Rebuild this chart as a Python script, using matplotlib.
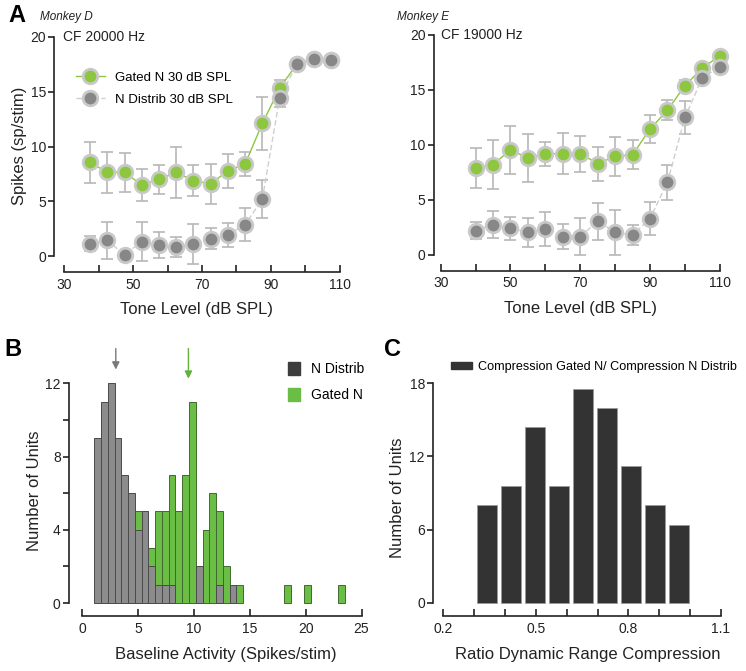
import numpy as np
import matplotlib
matplotlib.use('Agg')
import matplotlib.pyplot as plt
from matplotlib.lines import Line2D
from matplotlib.patches import Patch
from matplotlib.ticker import MultipleLocator

plt.rcParams['font.family'] = ['Liberation Sans', 'DejaVu Sans']

# ---- panel A data: Monkey D (CF 20000 Hz)
level_d = [37.5, 42.5, 47.5, 52.5, 57.5, 62.5, 67.5, 72.5, 77.5, 82.5, 87.5, 92.5, 97.5, 102.5, 107.5]
gated_d = [8.55, 7.65, 7.65, 6.5, 7.0, 7.65, 6.9, 6.6, 7.8, 8.4, 12.1, 15.3, 17.5, 18.0, 17.9]
gated_d_err = [1.85, 1.85, 1.75, 1.5, 1.35, 2.35, 1.4, 1.8, 1.55, 1.1, 2.4, 0.8, 0.3, 0.3, 0.3]
distrib_d = [1.15, 1.45, 0.15, 1.35, 1.05, 0.85, 1.15, 1.6, 1.95, 2.9, 5.2, 14.4, 17.5, 18.0, 17.9]
distrib_d_err = [0.7, 1.7, 0.3, 1.75, 1.2, 0.9, 1.8, 0.95, 1.1, 1.5, 1.75, 0.8, 0.3, 0.3, 0.3]

# ---- panel A data: Monkey E (CF 19000 Hz)
level_e = [40, 45, 50, 55, 60, 65, 70, 75, 80, 85, 90, 95, 100, 105, 110]
gated_e = [7.9, 8.2, 9.55, 8.8, 9.2, 9.2, 9.2, 8.3, 8.95, 9.1, 11.45, 13.15, 15.4, 17.0, 18.1]
gated_e_err = [1.8, 2.2, 2.2, 2.15, 1.1, 1.85, 1.65, 1.55, 1.75, 1.3, 1.25, 0.9, 0.5, 0.3, 0.3]
distrib_e = [2.2, 2.75, 2.4, 2.05, 2.35, 1.65, 1.65, 3.05, 2.05, 1.8, 3.3, 6.6, 12.5, 16.1, 17.1]
distrib_e_err = [0.75, 1.2, 1.05, 1.3, 1.55, 1.15, 1.7, 1.7, 2.05, 0.95, 1.5, 1.6, 1.5, 0.3, 0.3]

# ---- panel B data: baseline activity histogram
bin_start = 1.07
bin_w = 0.606
hist_distrib = [9, 11, 12, 9, 7, 6, 4, 5, 2, 1, 1, 1, 0, 0, 0, 2, 0, 0, 1, 0, 1, 0,
                0, 0, 0, 0, 0, 0, 0, 0, 0, 0, 0, 0, 0, 0, 0]
hist_gated = [0, 0, 0, 0, 0, 0, 5, 0, 3, 5, 5, 7, 5, 7, 11, 0, 4, 6, 5, 2, 0, 1,
              0, 0, 0, 0, 0, 0, 1, 0, 0, 1, 0, 0, 0, 0, 1]
mean_distrib = 3.0
mean_gated = 9.5

# ---- panel C data: ratio of dynamic range compression
ratio_centers = [0.341, 0.419, 0.497, 0.574, 0.652, 0.730, 0.808, 0.886, 0.964]
ratio_counts = [8.0, 9.6, 14.4, 9.6, 17.5, 16.0, 11.2, 8.0, 6.4]

GREEN_M = '#8dc63f'
GRAY_M = '#878787'
EDGE_M = '#c9c9c9'
ERR = '#b8b8b8'
GREEN_B = '#6abd45'
GRAY_B = '#8c8c8c'
INK = '#222222'

W, H = 746, 671
fig = plt.figure(figsize=(W / 100, H / 100), dpi=100)


def px_axes(left, top, right, bottom):
    return fig.add_axes([left / W, 1 - bottom / H, (right - left) / W, (bottom - top) / H])


def style_axes(ax):
    for s in ['top', 'right']:
        ax.spines[s].set_visible(False)
    for s in ['left', 'bottom']:
        ax.spines[s].set_linewidth(1.2)
        ax.spines[s].set_color(INK)
    ax.tick_params(axis='y', which='both', direction='out', length=4.5, width=1.2,
                   pad=1.5, labelsize=10, colors=INK)
    ax.tick_params(axis='x', which='both', direction='in', length=5, width=1.2,
                   pad=4, labelsize=10, colors=INK)
    ax.patch.set_visible(False)


def rate_panel(ax, x, g, ge, d, de):
    ax.errorbar(x, g, yerr=ge, fmt='none', ecolor=ERR, elinewidth=1.2, capsize=4.5,
                capthick=1.2, zorder=2, clip_on=False)
    ax.errorbar(x, d, yerr=de, fmt='none', ecolor=ERR, elinewidth=1.2, capsize=4.5,
                capthick=1.2, zorder=2, clip_on=False)
    ax.plot(x, g, color=GREEN_M, lw=1.0, zorder=3, clip_on=False)
    ax.plot(x, d, color='#cfcfcf', lw=1.0, ls=(0, (4, 2)), zorder=3, clip_on=False)
    ax.plot(x, g, 'o', ms=10.5, mfc=GREEN_M, mec=EDGE_M, mew=2, zorder=4, clip_on=False)
    ax.plot(x, d, 'o', ms=10.5, mfc=GRAY_M, mec=EDGE_M, mew=2, zorder=5, clip_on=False)
    ax.set_ylim(-1.45, 20)
    ax.spines['left'].set_bounds(0, 20)
    ax.spines['bottom'].set_bounds(30, 110)
    ax.set_yticks([0, 5, 10, 15, 20])
    ax.set_xticks([30, 50, 70, 90, 110])
    ax.xaxis.set_minor_locator(MultipleLocator(10))
    style_axes(ax)


# ---- Panel A, Monkey D
axA1 = px_axes(54.5, 36.7, 345, 272.3)
axA1.set_xlim(27.17, 111.5)
rate_panel(axA1, level_d, gated_d, gated_d_err, distrib_d, distrib_d_err)
axA1.set_ylabel('Spikes (sp/stim)', fontsize=12, color=INK)
axA1.yaxis.set_label_coords(-0.095, 0.535)
axA1.set_xlabel('Tone Level (dB SPL)', fontsize=12, color=INK)
axA1.xaxis.set_label_coords(0.49, -0.125)
axA1.text(29.6, 20, 'CF 20000 Hz', fontsize=10, va='center', ha='left', color=INK)
handles = [Line2D([], [], color=GREEN_M, lw=1, marker='o', ms=10.5, mfc=GREEN_M, mec=EDGE_M, mew=2),
           Line2D([], [], color='#cfcfcf', lw=1, ls=(0, (4, 2)), marker='o', ms=10.5,
                  mfc=GRAY_M, mec=EDGE_M, mew=2)]
axA1.legend(handles, ['Gated N 30 dB SPL', 'N Distrib 30 dB SPL'], loc='upper left',
            bbox_to_anchor=(0.055, 0.875), frameon=False, fontsize=9.5, handlelength=2.2,
            handletextpad=0.8, labelspacing=0.75, borderaxespad=0)

# ---- Panel A, Monkey E
axA2 = px_axes(434, 35, 724, 270.7)
axA2.set_xlim(28.08, 111.2)
rate_panel(axA2, level_e, gated_e, gated_e_err, distrib_e, distrib_e_err)
axA2.set_xlabel('Tone Level (dB SPL)', fontsize=12, color=INK)
axA2.xaxis.set_label_coords(0.505, -0.13)
axA2.text(30.2, 20, 'CF 19000 Hz', fontsize=10, va='center', ha='left', color=INK)

fig.text(8 / W, 1 - 4 / H, 'A', fontsize=17, fontweight='bold', va='top', ha='left')
fig.text(40 / W, 1 - 17 / H, 'Monkey D', fontsize=8.5, style='italic', va='center', color=INK)
fig.text(397 / W, 1 - 17 / H, 'Monkey E', fontsize=8.5, style='italic', va='center', color=INK)

# ---- Panel B
axB = px_axes(69, 383.3, 366, 616)
axB.set_xlim(-1.19, 25.4)
axB.set_ylim(-0.71, 12)
edges = [bin_start + i * bin_w for i in range(len(hist_gated))]
gx = [e for e, c in zip(edges, hist_gated) if c > 0]
gc = [c for c in hist_gated if c > 0]
dx = [e for e, c in zip(edges, hist_distrib) if c > 0]
dc = [c for c in hist_distrib if c > 0]
axB.bar(gx, gc, width=bin_w, align='edge', color=GREEN_B, edgecolor='#3f6b2c', lw=0.7, zorder=2)
axB.bar(dx, dc, width=bin_w, align='edge', color=GRAY_B, edgecolor='#4a4a4a', lw=0.7, zorder=3)
axB.spines['left'].set_bounds(0, 12)
axB.spines['bottom'].set_bounds(0, 25)
axB.set_yticks([0, 4, 8, 12])
axB.yaxis.set_minor_locator(MultipleLocator(2))
axB.set_xticks([0, 5, 10, 15, 20, 25])
style_axes(axB)
axB.set_ylabel('Number of Units', fontsize=12, color=INK)
axB.yaxis.set_label_coords(-0.09, 0.54)
axB.set_xlabel('Baseline Activity (Spikes/stim)', fontsize=12, color=INK)
axB.xaxis.set_label_coords(0.527, -0.135)
axB.annotate('', xy=(mean_distrib, 12.6), xytext=(mean_distrib, 14.05), annotation_clip=False,
             arrowprops=dict(arrowstyle='-|>', color='#7a7a7a', lw=1.0, mutation_scale=11))
axB.annotate('', xy=(mean_gated, 12.1), xytext=(mean_gated, 14.05), annotation_clip=False,
             arrowprops=dict(arrowstyle='-|>', color='#5fb23c', lw=1.0, mutation_scale=11))
axB.legend([Patch(color='#3d3d3d'), Patch(color=GREEN_B)], ['N Distrib', 'Gated N'],
           loc='upper left', bbox_to_anchor=(0.72, 1.115), frameon=False, fontsize=10,
           handlelength=0.8, handleheight=1.1, handletextpad=0.8, labelspacing=0.8,
           borderaxespad=0)
fig.text(4 / W, 1 - 338 / H, 'B', fontsize=17, fontweight='bold', va='top', ha='left')

# ---- Panel C
axC = px_axes(433.3, 383.3, 724, 616)
axC.set_xlim(0.1676, 1.11)
axC.set_ylim(-1.09, 18)
axC.bar(ratio_centers, ratio_counts, width=0.065, color='#333333', edgecolor='#9a9a9a',
        lw=0.6, zorder=2)
axC.spines['left'].set_bounds(0, 18)
axC.spines['bottom'].set_bounds(0.2, 1.1)
axC.set_yticks([0, 6, 12, 18])
axC.set_xticks([0.2, 0.5, 0.8, 1.1])
axC.set_xticklabels(['0.2', '0.5', '0.8', '1.1'])
axC.xaxis.set_minor_locator(MultipleLocator(0.1))
style_axes(axC)
axC.set_ylabel('Number of Units', fontsize=12, color=INK)
axC.yaxis.set_label_coords(-0.097, 0.51)
axC.set_xlabel('Ratio Dynamic Range Compression', fontsize=12, color=INK)
axC.xaxis.set_label_coords(0.532, -0.135)
axC.legend([Patch(color='#333333')], ['Compression Gated N/ Compression N Distrib'],
           loc='center left', bbox_to_anchor=(0.042, 1.07), frameon=False, fontsize=9.1,
           handlelength=1.7, handleheight=0.5, handletextpad=0.45, borderaxespad=0)
fig.text(384 / W, 1 - 338 / H, 'C', fontsize=17, fontweight='bold', va='top', ha='left')

fig.savefig('out.png', dpi=100)
print("saved")
